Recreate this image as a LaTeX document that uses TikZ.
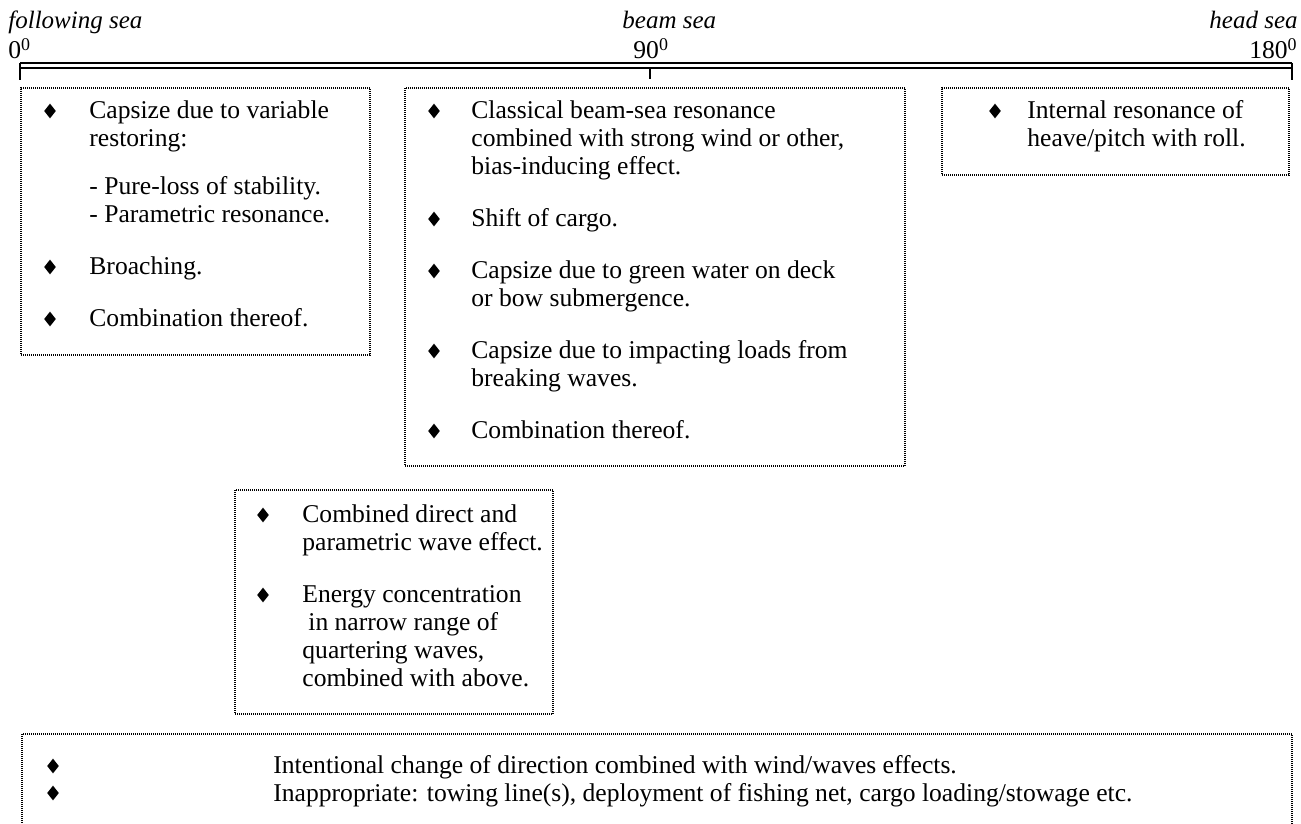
\documentclass[tikz,border=0pt]{standalone}
\usepackage{fontspec}
\setmainfont{Liberation Serif}
\usetikzlibrary{shapes.geometric,fit,positioning}
\tikzset{
  txt/.style={font=\fontsize{12.8}{14}\selectfont,inner sep=0pt,anchor=north west,align=left},
  seatxt/.style={font=\fontsize{12.5}{14}\selectfont\itshape,inner sep=0pt},
  degtxt/.style={font=\fontsize{12.8}{14}\selectfont,inner sep=0pt},
  bul/.style={diamond,fill=black,inner sep=0pt,minimum width=6pt,minimum height=7.5pt},
  dotbox/.style={draw,line width=0.8pt,dash pattern=on 0.5pt off 0.5pt,inner sep=0pt},
  axisline/.style={line width=#1},
  axisline/.default={0.8pt},
}

\begin{document}
\begin{tikzpicture}[x=0.5pt,y=-0.5pt]
  \fill[white] (0,0) rectangle (1301,824);
  \useasboundingbox (0,0) rectangle (1301,824);

  % heading direction axis
  \node[seatxt,anchor=base west] (following) at (8,29) {following sea};
  \node[degtxt,anchor=base west] (zerodeg) at (8,59) {0\textsuperscript{0}};
  \node[seatxt,anchor=base west] (beam) at (622,29) {beam sea};
  \node[degtxt,anchor=base west] (ninetydeg) at (633,59) {90\textsuperscript{0}};
  \node[seatxt,anchor=base east] (head) at (1298,29) {head sea};
  \node[degtxt,anchor=base east] (oneeightydeg) at (1298,59) {180\textsuperscript{0}};
  \coordinate (axL) at (20,63);
  \coordinate (axR) at (1292,63);
  \coordinate (axLb) at (20,68);
  \coordinate (axRb) at (1292,68);
  \coordinate (axM) at (650,68);
  \coordinate (tickL) at (20,80);
  \coordinate (tickR) at (1292,80);
  \coordinate (tickM) at (650,79);
  \draw[axisline=1.1pt] (axL) -- (axR);
  \draw[axisline] (axLb) -- (axRb);
  \draw[axisline] (axL) -- (tickL);
  \draw[axisline] (axR) -- (tickR);
  \draw[axisline] (axM) -- (tickM);

  % following sea
  \node[dotbox,fit={(21,88) (370,355)}] (boxfollow) {};
  \node[bul] (bA1) at (50,111) {};
  \node[txt] (tA1) at (89,98.4) {\strut Capsize due to variable\\restoring:};
  \node[txt] (tA2) at (89,174.4) {\strut - Pure-loss of stability.\\- Parametric resonance.};
  \node[bul] (bA3) at (50,267) {};
  \node[txt] (tA3) at (89,254.4) {\strut Broaching.};
  \node[bul] (bA4) at (50,319) {};
  \node[txt] (tA4) at (89,306.4) {\strut Combination thereof.};

  % beam sea
  \node[dotbox,fit={(405,88) (905,466)}] (boxbeam) {};
  \node[bul] (bB1) at (434,111) {};
  \node[txt] (tB1) at (471,98.4) {\strut Classical beam-sea resonance\\combined with strong wind or other,\\bias-inducing effect.};
  \node[bul] (bB2) at (434,219) {};
  \node[txt] (tB2) at (471,206.4) {\strut Shift of cargo.};
  \node[bul] (bB3) at (434,271) {};
  \node[txt] (tB3) at (471,258.4) {\strut Capsize due to green water on deck\\or bow submergence.};
  \node[bul] (bB4) at (434,351) {};
  \node[txt] (tB4) at (471,338.4) {\strut Capsize due to impacting loads from\\breaking waves.};
  \node[bul] (bB5) at (434,431) {};
  \node[txt] (tB5) at (471,418.4) {\strut Combination thereof.};

  % head sea
  \node[dotbox,fit={(942,88) (1289,175)}] (boxhead) {};
  \node[bul] (bC1) at (995,111) {};
  \node[txt] (tC1) at (1027,98.4) {\strut Internal resonance of\\heave/pitch with roll.};

  % quartering seas
  \node[dotbox,fit={(235,490) (553,714)}] (boxquarter) {};
  \node[bul] (bD1) at (263,515) {};
  \node[txt] (tD1) at (302,502.4) {\strut Combined direct and\\parametric wave effect.};
  \node[bul] (bD2) at (263,595) {};
  \node[txt] (tD2) at (302,582.4) {\strut Energy concentration\\\hspace*{3pt}in narrow range of\\quartering waves,\\combined with above.};

  % all headings
  \node[dotbox,fit={(22,734) (1292,860)}] (boxall) {};
  \node[bul] (bE1) at (53,766) {};
  \node[bul] (bE2) at (53,793) {};
  \node[txt] (tE1) at (273,753.4) {\strut Intentional change of direction combined with wind/waves effects.\\Inappropriate: towing line(s), deployment of fishing net, cargo loading/stowage etc.};
\end{tikzpicture}
\end{document}
